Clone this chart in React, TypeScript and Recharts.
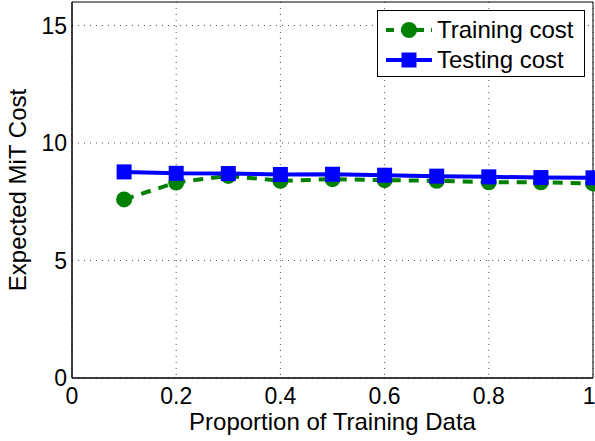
import React from 'react'
import {
	CartesianGrid,
	LineChart,
	Line,
	XAxis,
	YAxis,
	Legend,
	ReferenceArea,
} from 'recharts'

const PROPORTIONS = [0.1, 0.2, 0.3, 0.4, 0.5, 0.6, 0.7, 0.8, 0.9, 1.0]
const TRAINING_COST = [7.6, 8.32, 8.6, 8.39, 8.46, 8.42, 8.39, 8.33, 8.33, 8.28]
const TESTING_COST = [8.77, 8.71, 8.7, 8.66, 8.67, 8.63, 8.59, 8.56, 8.53, 8.52]
const X_TICKS = [0, 0.2, 0.4, 0.6, 0.8, 1]
const Y_TICKS = [0, 5, 10, 15]

const GREEN = '#008000'
const BLUE = '#0000ff'
const FONT = '"Liberation Sans", Arial, sans-serif'

const data = PROPORTIONS.map((p, i) => ({
	p,
	training: TRAINING_COST[i],
	testing: TESTING_COST[i],
}))

const circleDot = (props: any) => {
	const { cx, cy, index } = props
	return <circle key={`c-${index}`} cx={cx} cy={cy} r={8} fill={GREEN} stroke="none" />
}

const squareDot = (props: any) => {
	const { cx, cy, index } = props
	return <rect key={`s-${index}`} x={cx - 7.5} y={cy - 7.5} width={15} height={15} fill={BLUE} stroke="none" />
}

const LegendBox = () => (
	<div
		style={{
			boxSizing: 'border-box',
			border: '1px solid #000',
			background: '#fff',
			width: 208,
			height: 67,
			paddingTop: 4,
			fontFamily: FONT,
			fontSize: 24,
			color: '#000',
			lineHeight: '30px',
		}}
	>
		<div style={{ display: 'flex', alignItems: 'center', height: 30 }}>
			<svg width={46} height={20} style={{ marginLeft: 8, marginRight: 5 }}>
				<line x1={0} y1={10} x2={46} y2={10} stroke={GREEN} strokeWidth={4} strokeDasharray="8 7" strokeDashoffset={0} />
				<circle cx={23} cy={10} r={8} fill={GREEN} />
			</svg>
			<span>Training cost</span>
		</div>
		<div style={{ display: 'flex', alignItems: 'center', height: 30 }}>
			<svg width={46} height={20} style={{ marginLeft: 8, marginRight: 5 }}>
				<line x1={0} y1={10} x2={46} y2={10} stroke={BLUE} strokeWidth={4} />
				<rect x={15.5} y={2.5} width={15} height={15} fill={BLUE} />
			</svg>
			<span>Testing cost</span>
		</div>
	</div>
)

export default function App() {
	return (
		<div style={{ position: 'absolute', left: 0, top: 0, width: 595, height: 441, background: '#fff' }}>
			<LineChart
				width={595}
				height={441}
				data={data}
				margin={{ top: 2, right: 2, bottom: 0, left: 0 }}
			>
				<CartesianGrid
					stroke="#555"
					strokeDasharray="1 5"
					horizontalValues={Y_TICKS}
					verticalValues={X_TICKS}
				/>
				<XAxis
					type="number"
					dataKey="p"
					domain={[0, 1]}
					ticks={X_TICKS}
					tickFormatter={(v: number) => (v === 0 || v === 1 ? String(v) : v.toFixed(1))}
					tick={{ fill: '#000', fontSize: 23, fontFamily: FONT }}
					tickLine={false}
					axisLine={{ stroke: '#000' }}
					tickSize={6}
					tickMargin={4}
					height={63}
					label={{
						value: 'Proportion of Training Data',
						position: 'insideBottom',
						offset: 11,
						fill: '#000',
						fontSize: 24,
						fontFamily: FONT,
					}}
				/>
				{/* inward tick marks on all four sides */}
				<XAxis xAxisId="innerBottom" type="number" dataKey="p" domain={[0, 1]} ticks={X_TICKS} mirror tick={false} tickSize={5} axisLine={false} tickLine={{ stroke: '#000' }} />
				<XAxis xAxisId="innerTop" orientation="top" type="number" dataKey="p" domain={[0, 1]} ticks={X_TICKS} mirror tick={false} tickSize={5} axisLine={false} tickLine={{ stroke: '#000' }} />
				<YAxis
					type="number"
					domain={[0, 16]}
					ticks={Y_TICKS}
					tick={{ fill: '#000', fontSize: 23, fontFamily: FONT }}
					tickLine={false}
					axisLine={{ stroke: '#000' }}
					tickSize={4}
					tickMargin={1}
					width={72}
					label={{
						value: 'Expected MiT Cost',
						angle: -90,
						position: 'insideLeft',
						offset: 17,
						style: { textAnchor: 'middle' },
						fill: '#000',
						fontSize: 24,
						fontFamily: FONT,
					}}
				/>
				<YAxis yAxisId="innerLeft" type="number" domain={[0, 16]} ticks={Y_TICKS} mirror tick={false} tickSize={5} axisLine={false} tickLine={{ stroke: '#000' }} />
				<YAxis yAxisId="innerRight" orientation="right" type="number" domain={[0, 16]} ticks={Y_TICKS} mirror tick={false} tickSize={5} axisLine={false} tickLine={{ stroke: '#000' }} />
				<ReferenceArea x1={0} x2={1} y1={0} y2={16} fill="none" stroke="#000" strokeWidth={1} ifOverflow="extendDomain" />
				<Legend
					layout="vertical"
					verticalAlign="middle"
					align="center"
					content={<LegendBox />}
					wrapperStyle={{ top: 10, left: 377, width: 208, height: 67 }}
				/>
				<Line
					type="linear"
					dataKey="training"
					stroke={GREEN}
					strokeWidth={4}
					strokeDasharray="10 8"
					dot={circleDot}
					activeDot={false}
					isAnimationActive={false}
				/>
				<Line
					type="linear"
					dataKey="testing"
					stroke={BLUE}
					strokeWidth={4}
					dot={squareDot}
					activeDot={false}
					isAnimationActive={false}
				/>
			</LineChart>
		</div>
	)
}
